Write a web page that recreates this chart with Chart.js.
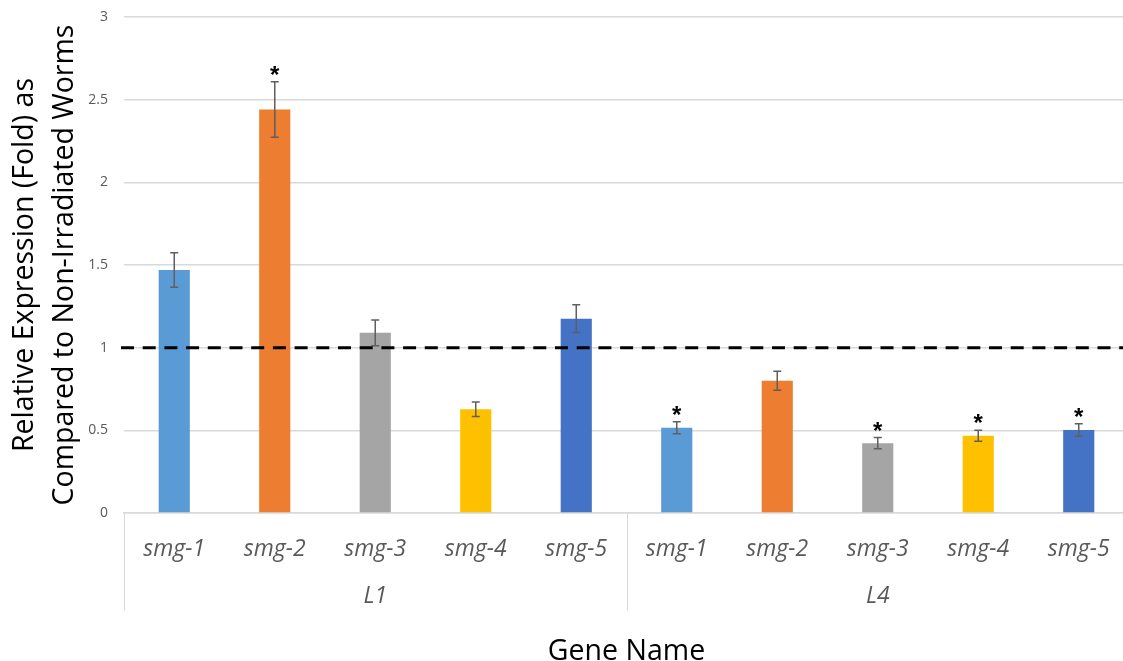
<!DOCTYPE html>
<html>
<head>
<meta charset="utf-8">
<script src="https://cdn.jsdelivr.net/npm/chart.js@4.4.1/dist/chart.umd.min.js"></script>
<style>
  html, body { margin: 0; padding: 0; background: #ffffff; overflow: hidden; }
  #wrap { position: absolute; left: 0; top: 0; width: 1130px; height: 661px; }
</style>
</head>
<body>
<div id="wrap"><canvas id="c" width="1130" height="661"></canvas></div>
<script>
// ---- data ----
const genes = ['smg-1', 'smg-2', 'smg-3', 'smg-4', 'smg-5'];
const stages = ['L1', 'L4'];
const l1Values = [1.47, 2.44, 1.09, 0.627, 1.175];
const l4Values = [0.516, 0.80, 0.422, 0.467, 0.502];
const l1Errors = [0.104, 0.168, 0.078, 0.044, 0.084];
const l4Errors = [0.036, 0.058, 0.034, 0.033, 0.038];
const l1Significant = [false, true, false, false, false];
const l4Significant = [true, false, true, true, true];
const geneColors = ['#5B9BD5', '#ED7D31', '#A5A5A5', '#FFC000', '#4472C4'];
const referenceLevel = 1;
const yTickLabels = ['0', '0.5', '1', '1.5', '2', '2.5', '3'];
const yMin = 0, yMax = 3, yStep = 0.5;
const yTitle = ['Relative Expression (Fold) as', 'Compared to Non-Irradiated Worms'];
const xTitle = 'Gene Name';

// ---- build library structures ----
const labels = stages.flatMap(() => genes);
const values = l1Values.concat(l4Values);
const errors = l1Errors.concat(l4Errors);
const significant = l1Significant.concat(l4Significant);
const colors = stages.flatMap(() => geneColors);

const FONT = "'Open Sans', 'DejaVu Sans', sans-serif";
const GRID = '#d9d9d9';
const TICK = '#595959';

const extras = {
  id: 'extras',
  afterDatasetsDraw(chart) {
    const { ctx, chartArea, scales } = chart;
    const x = scales.x, y = scales.y;
    const meta = chart.getDatasetMeta(0);
    ctx.save();
    // error bars
    ctx.strokeStyle = '#5f5f5f';
    ctx.lineWidth = 1.5;
    meta.data.forEach((bar, i) => {
      const cx = bar.x;
      const top = y.getPixelForValue(values[i] + errors[i]);
      const bot = y.getPixelForValue(values[i] - errors[i]);
      ctx.beginPath();
      ctx.moveTo(cx, top); ctx.lineTo(cx, bot);
      ctx.moveTo(cx - 4, top); ctx.lineTo(cx + 4, top);
      ctx.moveTo(cx - 4, bot); ctx.lineTo(cx + 4, bot);
      ctx.stroke();
      if (significant[i]) {
        ctx.fillStyle = '#000';
        ctx.font = "bold 24px 'Liberation Sans', Arial, sans-serif";
        ctx.textAlign = 'center';
        ctx.textBaseline = 'alphabetic';
        ctx.fillText('*', cx, top + 1);
      }
    });
    // reference dashed line
    const ry = y.getPixelForValue(referenceLevel);
    ctx.strokeStyle = '#000';
    ctx.lineWidth = 3;
    ctx.setLineDash([13, 8.7]);
    ctx.beginPath();
    ctx.moveTo(chartArea.left - 3, ry);
    ctx.lineTo(chartArea.right, ry);
    ctx.stroke();
    ctx.setLineDash([]);
    // group separators below axis
    const step = x.getPixelForValue(1) - x.getPixelForValue(0);
    ctx.strokeStyle = GRID;
    ctx.lineWidth = 1;
    for (let g = 0; g <= stages.length; g++) {
      const px = Math.round(x.getPixelForValue(g * genes.length) - step / 2) + 0.5;
      ctx.beginPath();
      ctx.moveTo(px, chartArea.bottom);
      ctx.lineTo(px, 611);
      ctx.stroke();
    }
    ctx.restore();
  }
};

new Chart(document.getElementById('c'), {
  type: 'bar',
  data: {
    labels: labels,
    datasets: [{
      data: values,
      backgroundColor: colors,
      borderWidth: 0,
      barPercentage: 0.31,
      categoryPercentage: 1.0
    }]
  },
  options: {
    responsive: false,
    animation: false,
    devicePixelRatio: 1,
    layout: { padding: { left: 0, right: 1, top: 17, bottom: 0 } },
    plugins: { legend: { display: false }, tooltip: { enabled: false } },
    scales: {
      y: {
        min: yMin, max: yMax,
        ticks: {
          stepSize: yStep, color: TICK, font: { family: FONT, size: 14 }, padding: 16,
          callback: (v, i) => yTickLabels[i]
        },
        grid: { color: GRID, lineWidth: 1.5, drawTicks: false },
        border: { display: false },
        title: {
          display: true, text: yTitle, color: '#000',
          font: { family: FONT, size: 28.5, lineHeight: 1.4 },
          padding: { top: 5, bottom: 0 }
        },
        afterFit: s => { s.width = 124; s.paddingTop = 0; s.paddingBottom = 0; }
      },
      x: {
        type: 'category',
        grid: { display: false },
        border: { display: true, color: GRID, width: 1.5 },
        ticks: { color: TICK, font: { family: FONT, size: 23, style: 'italic' }, padding: 15, maxRotation: 0, autoSkip: false },
        afterFit: s => { s.height = 50; }
      },
      x2: {
        type: 'category',
        position: 'bottom',
        weight: 1,
        labels: stages,
        offset: true,
        grid: { display: false },
        border: { display: false },
        ticks: { color: TICK, font: { family: FONT, size: 23, style: 'italic' }, padding: 12, maxRotation: 0 },
        title: {
          display: true, text: xTitle, color: '#000',
          font: { family: FONT, size: 28.5 },
          padding: { top: 0, bottom: -8 }
        },
        afterFit: s => { s.height = 98; }
      }
    }
  },
  plugins: [extras]
});
</script>
</body>
</html>
